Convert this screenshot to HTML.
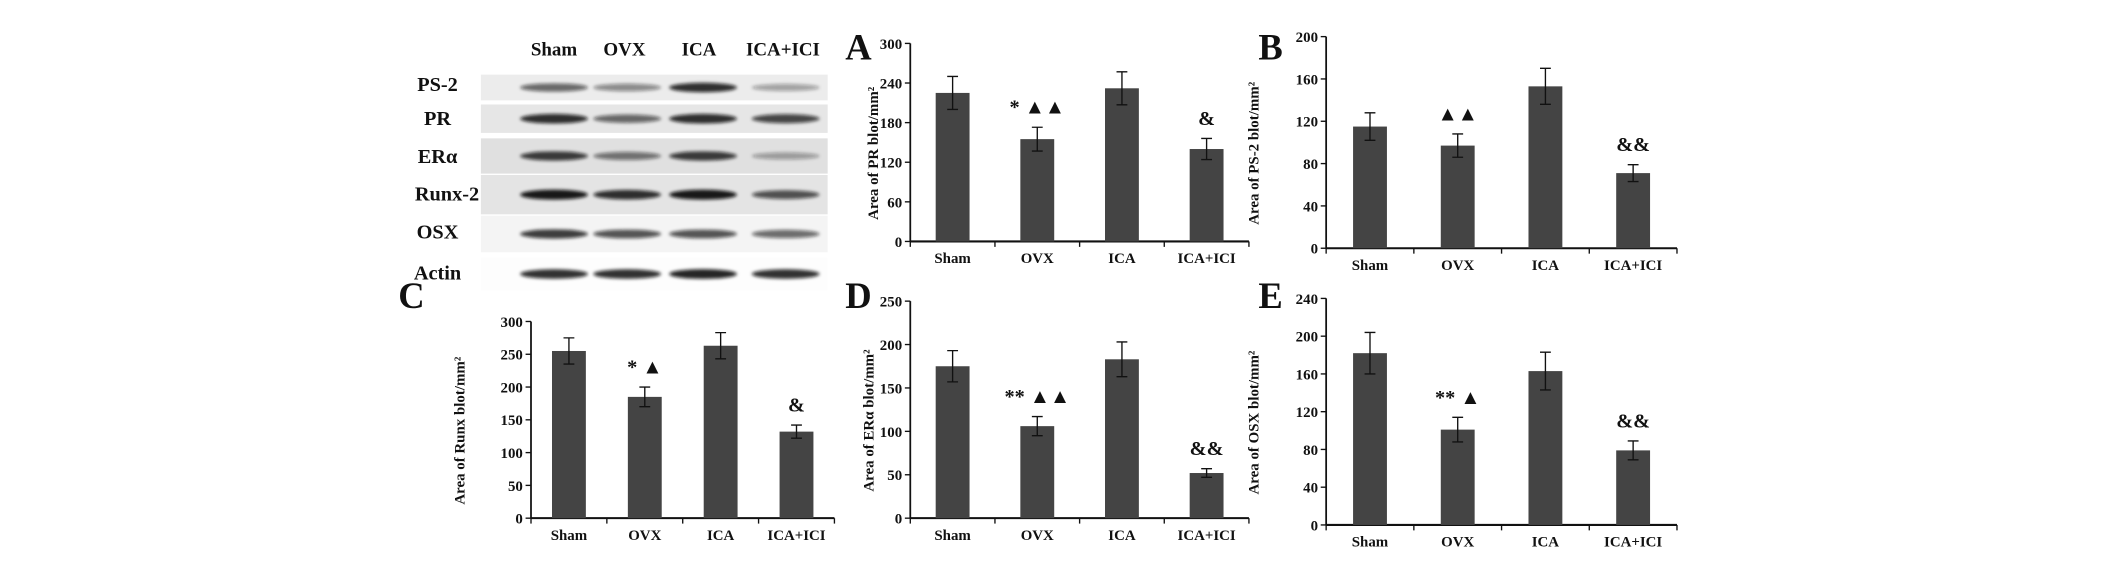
<!DOCTYPE html>
<html><head><meta charset="utf-8"><style>
html,body{margin:0;padding:0;background:#fff;width:2124px;height:567px;overflow:hidden}
svg{display:block}
text{font-family:"Liberation Serif",serif;font-weight:bold;fill:#111}
</style></head><body>
<svg id="fig" width="2124" height="567" viewBox="0 0 1568 418" preserveAspectRatio="none" xmlns="http://www.w3.org/2000/svg">
<defs><filter id="blur" x="-20%" y="-100%" width="140%" height="300%"><feGaussianBlur stdDeviation="1.1"/></filter></defs>
<g id="blot"></g>
<g id="charts"></g>
</svg>
<script>
const categories = ["Sham","OVX","ICA","ICA+ICI"];
const valuesA = [225,155,232,140]; const errA = [25,18,25,16];
const valuesB = [115,97,153,71];  const errB = [13,11,17,8];
const valuesC = [255,185,263,132]; const errC = [20,15,20,10];
const valuesD = [175,106,183,52]; const errD = [18,11,20,5];
const valuesE = [182,101,163,79]; const errE = [22,13,20,10];
const ticksA = [0,60,120,180,240,300];
const ticksB = [0,40,80,120,160,200];
const ticksC = [0,50,100,150,200,250,300];
const ticksD = [0,50,100,150,200,250];
const ticksE = [0,40,80,120,160,200,240];
const annotA = ["","* ▲▲","","&"];
const annotB = ["","▲▲","","&&"];
const annotC = ["","* ▲","","&"];
const annotD = ["","** ▲▲","","&&"];
const annotE = ["","** ▲","","&&"];
const blotRows = ["PS-2","PR","ERα","Runx-2","OSX","Actin"];
const bandIntensity = [[0.6,0.45,0.85,0.35],[0.85,0.6,0.85,0.75],[0.8,0.55,0.8,0.35],[0.95,0.85,0.95,0.7],[0.8,0.7,0.7,0.6],[0.85,0.85,0.9,0.85]];

const NS="http://www.w3.org/2000/svg";
function mk(tag,attrs,parent){const e=document.createElementNS(NS,tag);for(const k in attrs)e.setAttribute(k,attrs[k]);parent.appendChild(e);return e;}

// Blot
const blot=document.getElementById('blot');
const lanes=[409,463,519,580];
const laneLabels=[409,461,516,578];
const rowY=[[55,74],[77,98],[102,128],[129,158],[159,186],[190,214]];
const rowLabelX=[323,323,323,330,323,323];
const rowLabelY=[67,92,120,148,176,206];
const stripBg=['#ececec','#e6e6e6','#e0e0e0','#e4e4e4','#f4f4f4','#fdfdfd'];
categories.forEach((c,i)=>{
  const t=mk('text',{x:laneLabels[i],y:41,'text-anchor':'middle','font-size':14},blot);
  t.textContent=c;
  
  
});
blotRows.forEach((r,ri)=>{
  const [y0,y1]=rowY[ri];
  const bg=mk('rect',{x:355,y:y0,width:256,height:y1-y0,fill:stripBg[ri]},blot);
  
  
  const t=mk('text',{x:rowLabelX[ri],y:rowLabelY[ri],'text-anchor':'middle','font-size':15},blot);
  t.textContent=r;
  
  
  lanes.forEach((lx,li)=>{
    const a=bandIntensity[ri][li];
    const b=mk('ellipse',{cx:lx,cy:(y0+y1)/2,rx:25,ry:2+a*1.8,fill:'#111','fill-opacity':a,filter:'url(#blur)'},blot);
    
    
  });
});

// Charts
const charts=document.getElementById('charts');
function chart(cfg){
  const g=mk('g',{},charts);
  
  
  const max=cfg.ticks[cfg.ticks.length-1];
  const y=v=>cfg.y0-(v/max)*(cfg.y0-cfg.yTop);
  const step=(cfg.xEnd-cfg.ax)/cfg.cats.length;
  const x=i=>cfg.ax+step*(i+0.5);
  mk('line',{x1:cfg.ax,y1:cfg.yTop,x2:cfg.ax,y2:cfg.y0,stroke:'#111','stroke-width':1.3},g);
  mk('line',{x1:cfg.ax,y1:cfg.y0,x2:cfg.xEnd,y2:cfg.y0,stroke:'#111','stroke-width':1.5},g);
  cfg.ticks.forEach(t=>{
    mk('line',{x1:cfg.ax-4,y1:y(t),x2:cfg.ax,y2:y(t),stroke:'#111','stroke-width':1},g);
    const tx=mk('text',{x:cfg.ax-6,y:y(t)+4,'text-anchor':'end','font-size':11},g);
    tx.textContent=t;
    
    
  });
  for(let i=0;i<=cfg.cats.length;i++){
    const xx=cfg.ax+step*i;
    mk('line',{x1:xx,y1:cfg.y0,x2:xx,y2:cfg.y0+4,stroke:'#111','stroke-width':1},g);
  }
  cfg.cats.forEach((c,i)=>{
    const v=cfg.vals[i],e=cfg.err[i];
    const r=mk('rect',{x:x(i)-12.5,y:y(v),width:25,height:cfg.y0-y(v),fill:'#444'},g);
    
    
    const eb=mk('path',{d:`M${x(i)},${y(v+e)}V${y(v-e)}M${x(i)-4},${y(v+e)}H${x(i)+4}M${x(i)-4},${y(v-e)}H${x(i)+4}`,stroke:'#111','stroke-width':1,fill:'none'},g);
    
    
    const cl=mk('text',{x:x(i),y:cfg.y0+16,'text-anchor':'middle','font-size':11},g);
    cl.textContent=c;
    
    
    if(cfg.annot[i]){
      const an=mk('text',{x:x(i),y:y(v+e)-10,'text-anchor':'middle','font-size':15},g);
      an.textContent=cfg.annot[i];
      
      
    }
  });
  const ty=(cfg.yTop+cfg.y0)/2+8;
  const tt=mk('text',{x:cfg.titleX,y:ty,'text-anchor':'middle','font-size':11,transform:`rotate(-90 ${cfg.titleX} ${ty})`},g);
  tt.textContent=cfg.title;
  
  
  const pl=mk('text',{x:cfg.lx,y:cfg.ly,'font-size':27},g);
  pl.textContent=cfg.letter;
  
  
}
chart({name:'chart-a',ax:672,xEnd:922,yTop:32,y0:178,ticks:ticksA,vals:valuesA,err:errA,annot:annotA,cats:categories,title:'Area of PR blot/mm²',titleX:648,letter:'A',lx:624,ly:44});
chart({name:'chart-b',ax:979,xEnd:1238,yTop:27,y0:183,ticks:ticksB,vals:valuesB,err:errB,annot:annotB,cats:categories,title:'Area of PS-2 blot/mm²',titleX:929,letter:'B',lx:929,ly:44});
chart({name:'chart-c',ax:392,xEnd:616,yTop:237,y0:382,ticks:ticksC,vals:valuesC,err:errC,annot:annotC,cats:categories,title:'Area of Runx blot/mm²',titleX:343,letter:'C',lx:294,ly:227});
chart({name:'chart-d',ax:672,xEnd:922,yTop:222,y0:382,ticks:ticksD,vals:valuesD,err:errD,annot:annotD,cats:categories,title:'Area of ERα blot/mm²',titleX:645,letter:'D',lx:624,ly:227});
chart({name:'chart-e',ax:979,xEnd:1238,yTop:220,y0:387,ticks:ticksE,vals:valuesE,err:errE,annot:annotE,cats:categories,title:'Area of OSX blot/mm²',titleX:929,letter:'E',lx:929,ly:227});
</script>
</body></html>
